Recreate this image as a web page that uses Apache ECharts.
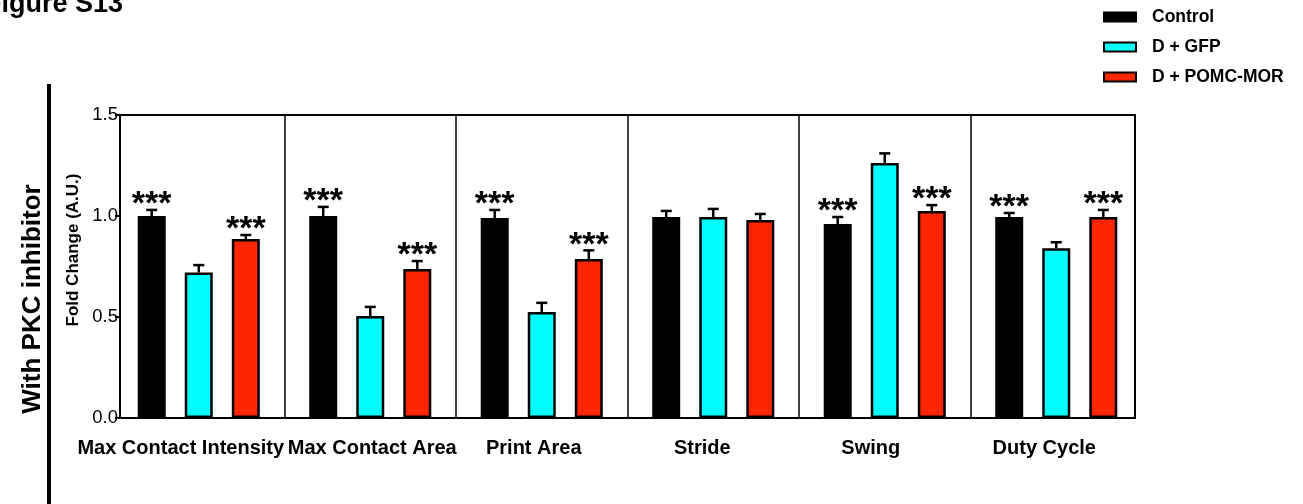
<!DOCTYPE html>
<html>
<head>
<meta charset="utf-8">
<script src="https://cdn.jsdelivr.net/npm/echarts@6/dist/echarts.min.js"></script>
<style>
  html, body { margin: 0; padding: 0; background: #fff; }
  #chart { width: 1303px; height: 504px; }
</style>
</head>
<body>
<div id="chart"></div>
<script>
// Gait parameters, fold change relative to control (mean and upper SEM)
const categories = ['Max Contact Intensity', 'Max Contact Area', 'Print Area', 'Stride', 'Swing', 'Duty Cycle'];
const groupNames = ['Control', 'D + GFP', 'D + POMC-MOR'];

const controlMean = [1.00, 1.00, 0.99, 0.995, 0.96, 0.995];
const controlErr  = [0.030, 0.045, 0.040, 0.030, 0.035, 0.020];
const gfpMean     = [0.72, 0.505, 0.525, 0.995, 1.262, 0.84];
const gfpErr      = [0.037, 0.045, 0.045, 0.040, 0.048, 0.030];
const pomcMean    = [0.886, 0.738, 0.787, 0.98, 1.025, 0.995];
const pomcErr     = [0.020, 0.039, 0.043, 0.030, 0.029, 0.035];

// *** marks (1 = significant versus D + GFP)
const controlSig = [1, 1, 1, 0, 1, 1];
const gfpSig     = [0, 0, 0, 0, 0, 0];
const pomcSig    = [1, 1, 1, 0, 1, 1];

const yTicks = [0.0, 0.5, 1.0, 1.5];

const FONT = '"Liberation Sans", Arial, Helvetica, sans-serif';
const colors = ['#000000', '#00FFFF', '#FF2500'];
const BAR_W = 28;
const BAR_GAP = 0.68;
const SLOT = BAR_W * (1 + BAR_GAP);
const labelShift = [-18, 2, -8, -11, -14, -12];

const means = [controlMean, gfpMean, pomcMean];
const errs = [controlErr, gfpErr, pomcErr];
const sigs = [controlSig, gfpSig, pomcSig];

const barSeries = groupNames.map((name, k) => ({
  name: name,
  type: 'bar',
  xAxisIndex: 1,
  yAxisIndex: 1,
  barWidth: BAR_W,
  barGap: (BAR_GAP * 100) + '%',
  data: means[k],
  itemStyle: { color: colors[k], borderColor: '#000', borderWidth: 2.5 },
  z: 3
}));

// Upper error whiskers and significance stars, placed over each bar
const errSeries = groupNames.map((name, k) => ({
  name: name + ' SEM',
  type: 'custom',
  xAxisIndex: 1,
  yAxisIndex: 1,
  clip: false,
  z: 4,
  data: categories.map((c, i) => [i, means[k][i], errs[k][i], sigs[k][i]]),
  renderItem: function (params, api) {
    const i = api.value(0), m = api.value(1), e = api.value(2), s = api.value(3);
    const base = api.coord([i, m]);
    const top = api.coord([i, m + e]);
    const x = base[0] + (k - 1) * SLOT;
    const lw = 2.5;
    const children = [
      { type: 'line', shape: { x1: x, y1: base[1], x2: x, y2: top[1] },
        style: { stroke: '#000', lineWidth: lw } },
      { type: 'line', shape: { x1: x - 5.5, y1: top[1], x2: x + 5.5, y2: top[1] },
        style: { stroke: '#000', lineWidth: lw } }
    ];
    if (s) {
      children.push({
        type: 'text',
        style: {
          x: x, y: top[1] - 22, text: '***',
          font: 'bold 34px ' + FONT,
          fill: '#000', align: 'center', verticalAlign: 'top'
        }
      });
    }
    return { type: 'group', children: children };
  }
}));

const rich = {};
labelShift.forEach((d, i) => {
  rich['s' + i] = {
    fontFamily: FONT, fontSize: 20, fontWeight: 'bold', color: '#000',
    padding: d < 0 ? [0, -2 * d, 0, 0] : [0, 0, 0, 2 * d]
  };
});

const chart = echarts.init(document.getElementById('chart'), null, { renderer: 'canvas' });
chart.setOption({
  backgroundColor: '#fff',
  animation: false,
  legend: {
    data: groupNames,
    orient: 'vertical',
    left: 1103,
    top: 7,
    padding: 0,
    itemWidth: 32,
    itemHeight: 9,
    itemGap: 10,
    icon: 'rect',
    textStyle: {
      fontFamily: FONT, fontSize: 17.5, fontWeight: 'bold', color: '#000',
      lineHeight: 20, padding: [0, 0, 0, 11]
    }
  },
  grid: [
    { left: 120, top: 115, width: 1015, height: 303, show: true,
      borderColor: '#000', borderWidth: 2, backgroundColor: 'transparent' },
    { left: 113, top: 115, width: 1029, height: 303 }
  ],
  xAxis: [
    { gridIndex: 0, type: 'category', data: categories, show: false },
    {
      gridIndex: 1, type: 'category', data: categories,
      axisLine: { show: false },
      axisTick: { show: false },
      splitLine: { show: true, interval: 0, showMinLine: false, showMaxLine: false,
        lineStyle: { color: '#000', width: 1.5 } },
      axisLabel: {
        interval: 0, margin: 20,
        fontFamily: FONT, fontSize: 20, fontWeight: 'bold', color: '#000',
        formatter: (v, i) => '{s' + i + '|' + v + '}',
        rich: rich
      }
    }
  ],
  yAxis: [
    {
      gridIndex: 0, type: 'value',
      min: yTicks[0], max: yTicks[yTicks.length - 1], interval: yTicks[1] - yTicks[0],
      axisLine: { show: true, lineStyle: { color: '#000', width: 2 } },
      axisTick: { show: true, length: 5, lineStyle: { color: '#000', width: 2 } },
      splitLine: { show: false },
      axisLabel: { color: '#000', fontFamily: FONT, fontSize: 18.5, margin: 2,
        formatter: v => v.toFixed(1) }
    },
    {
      gridIndex: 1, type: 'value',
      min: yTicks[0], max: yTicks[yTicks.length - 1], interval: yTicks[1] - yTicks[0],
      show: false
    }
  ],
  graphic: [
    { type: 'text', left: -15, top: -9,
      style: { text: 'Figure S13', font: 'bold 27px ' + FONT, fill: '#000' } },
    { type: 'line', shape: { x1: 49, y1: 84, x2: 49, y2: 504 },
      style: { stroke: '#000', lineWidth: 4 } },
    { type: 'text', x: 33, y: 299, rotation: Math.PI / 2,
      style: { text: 'With PKC inhibitor', font: 'bold 26px ' + FONT, fill: '#000',
        align: 'center', verticalAlign: 'middle' } },
    { type: 'text', x: 73, y: 250, rotation: Math.PI / 2,
      style: { text: 'Fold Change (A.U.)', font: 'bold 17px ' + FONT, fill: '#000',
        align: 'center', verticalAlign: 'middle' } }
  ],
  series: barSeries.concat(errSeries)
});
</script>
</body>
</html>
